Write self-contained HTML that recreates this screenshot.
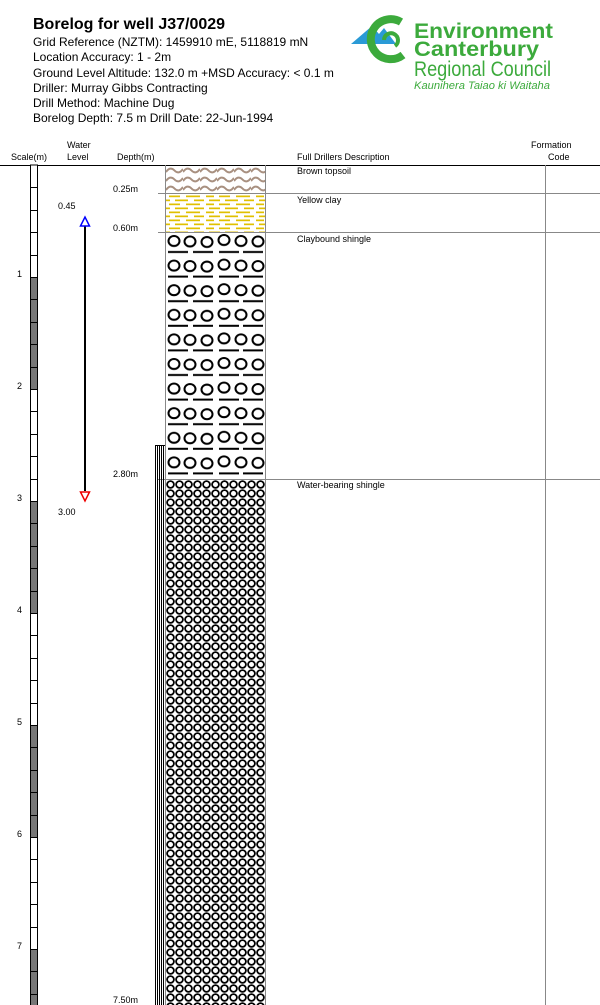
<!DOCTYPE html>
<html><head><meta charset="utf-8"><style>
html,body{margin:0;padding:0;background:#fff;}
svg{display:block;font-family:"Liberation Sans",Arial,sans-serif;}
</style></head><body>
<svg width="600" height="1005" viewBox="0 0 600 1005" xmlns="http://www.w3.org/2000/svg">
<defs>
<pattern id="soil" x="166" y="166" width="17" height="9" patternUnits="userSpaceOnUse">
<path d="M0 6 Q4.25 0 8.5 4.5 Q12.75 9 17 3" fill="none" stroke="#a89080" stroke-width="2"/>
</pattern>
<pattern id="clay" x="166" y="195" width="50" height="8" patternUnits="userSpaceOnUse">
<rect x="3" y="0.5" width="11" height="1.7" fill="#e0c000"/><rect x="20" y="0.5" width="14" height="1.7" fill="#e0c000"/><rect x="40" y="0.5" width="8" height="1.7" fill="#e0c000"/>
<rect x="9" y="4.5" width="13" height="1.7" fill="#e0c000"/><rect x="28" y="4.5" width="10" height="1.7" fill="#e0c000"/><rect x="43" y="4.5" width="7" height="1.7" fill="#e0c000"/><rect x="0" y="4.5" width="4" height="1.7" fill="#e0c000"/>
</pattern>
<pattern id="cshingle" x="166" y="234" width="100" height="24.6" patternUnits="userSpaceOnUse">
<g fill="none" stroke="#000" stroke-width="2">
<ellipse cx="8" cy="7" rx="5.5" ry="5"/><ellipse cx="24" cy="7.5" rx="5.5" ry="5"/><ellipse cx="41" cy="8" rx="5.5" ry="5"/>
<ellipse cx="58" cy="6" rx="5.5" ry="5"/><ellipse cx="75" cy="7" rx="5.5" ry="5"/><ellipse cx="92" cy="7.5" rx="5.5" ry="5"/>
</g>
<rect x="2" y="17" width="20" height="2" fill="#000"/><rect x="27" y="17" width="20" height="2" fill="#000"/>
<rect x="53" y="17" width="20" height="2" fill="#000"/><rect x="77" y="17" width="20" height="2" fill="#000"/>
</pattern>
<pattern id="wshingle" x="166" y="480" width="9" height="9" patternUnits="userSpaceOnUse">
<circle cx="4.5" cy="4.5" r="3.4" fill="none" stroke="#000" stroke-width="1.8"/>
</pattern>
</defs>

<text x="33" y="29" font-size="16" font-weight="bold">Borelog for well J37/0029</text>
<g font-size="12">
<text x="33" y="46">Grid Reference (NZTM):  1459910 mE, 5118819 mN</text>
<text x="33" y="61">Location Accuracy:  1 - 2m</text>
<text x="33" y="77">Ground Level Altitude:  132.0 m +MSD Accuracy: &lt; 0.1 m</text>
<text x="33" y="92">Driller:  Murray Gibbs Contracting</text>
<text x="33" y="107">Drill Method:  Machine Dug</text>
<text x="33" y="122">Borelog Depth:  7.5 m    Drill Date:  22-Jun-1994</text>
</g>

<!-- logo -->
<path d="M351 44 L372 26 L379 34 L384 28 L396 44 Z" fill="#2a9ad6"/>
<path d="M401 22 A20 20 0 1 0 403 55" fill="none" stroke="#3caa3c" stroke-width="8"/>
<path d="M384 40 A7 7 0 1 1 395 46" fill="none" stroke="#3caa3c" stroke-width="4"/>
<g fill="#3caa3c">
<text x="414" y="38" font-size="21" font-weight="bold" textLength="139" lengthAdjust="spacingAndGlyphs">Environment</text>
<text x="414" y="56" font-size="21" font-weight="bold" textLength="125" lengthAdjust="spacingAndGlyphs">Canterbury</text>
<text x="414" y="76" font-size="21" textLength="137" lengthAdjust="spacingAndGlyphs">Regional Council</text>
<text x="414" y="89" font-size="11" font-style="italic" textLength="136" lengthAdjust="spacingAndGlyphs">Kaunihera Taiao ki Waitaha</text>
</g>

<g font-size="9">
<text x="11" y="160">Scale(m)</text>
<text x="67" y="148">Water</text><text x="67" y="160">Level</text>
<text x="117" y="160">Depth(m)</text>
<text x="297" y="160">Full Drillers Description</text>
<text x="531" y="148">Formation</text><text x="548" y="160">Code</text>
</g>
<line x1="0" y1="165.5" x2="600" y2="165.5" stroke="#000" stroke-width="1"/>

<!-- scale bar -->
<rect x="30.5" y="165" width="7" height="840" fill="#fff" stroke="#000"/>
<rect x="30.5" y="277" width="7" height="112" fill="#777"/>
<rect x="30.5" y="501" width="7" height="112" fill="#777"/>
<rect x="30.5" y="725" width="7" height="112" fill="#777"/>
<rect x="30.5" y="949" width="7" height="60" fill="#777"/>
<g stroke="#000">
<line x1="30.5" y1="165" x2="30.5" y2="1005"/><line x1="37.5" y1="165" x2="37.5" y2="1005"/>
</g>
<g font-size="9">
<text x="17" y="277">1</text><text x="17" y="389">2</text><text x="17" y="501">3</text>
<text x="17" y="613">4</text><text x="17" y="725">5</text><text x="17" y="837">6</text><text x="17" y="949">7</text>
</g>

<!-- water level -->
<text x="58" y="209" font-size="9">0.45</text>
<text x="58" y="515" font-size="9">3.00</text>
<line x1="85" y1="226" x2="85" y2="491" stroke="#000" stroke-width="2"/>
<path d="M80.5 226 L85 217 L89.5 226 Z" fill="#fff" stroke="#00f" stroke-width="1.5"/>
<path d="M80.5 492 L85 501 L89.5 492 Z" fill="#fff" stroke="#e00" stroke-width="1.5"/>

<!-- depths -->
<g font-size="9">
<text x="113" y="192">0.25m</text>
<text x="113" y="231">0.60m</text>
<text x="113" y="477">2.80m</text>
<text x="113" y="1003">7.50m</text>
</g>

<!-- lithology -->
<rect x="165.5" y="166" width="100" height="27" fill="url(#soil)"/>
<rect x="165.5" y="194" width="100" height="38" fill="url(#clay)"/>
<rect x="165.5" y="233" width="100" height="246" fill="url(#cshingle)"/>
<rect x="165.5" y="480" width="100" height="525" fill="url(#wshingle)"/>
<line x1="165.5" y1="165" x2="165.5" y2="1005" stroke="#888"/>
<line x1="265.5" y1="165" x2="265.5" y2="1005" stroke="#888"/>
<g stroke="#888">
<line x1="158" y1="193.5" x2="600" y2="193.5"/>
<line x1="158" y1="232.5" x2="600" y2="232.5"/>
<line x1="158" y1="479.5" x2="600" y2="479.5"/>
</g>
<line x1="545.5" y1="165" x2="545.5" y2="1005" stroke="#888"/>

<!-- casing lines -->
<g stroke="#000" stroke-width="1">
<line x1="155.5" y1="445" x2="155.5" y2="1005"/><line x1="157.5" y1="445" x2="157.5" y2="1005"/>
<line x1="159.5" y1="445" x2="159.5" y2="1005"/><line x1="161.5" y1="445" x2="161.5" y2="1005"/>
<line x1="163.5" y1="445" x2="163.5" y2="1005"/>
<line x1="155" y1="445.5" x2="165" y2="445.5"/>
</g>

<g font-size="9">
<text x="297" y="174">Brown topsoil</text>
<text x="297" y="203">Yellow clay</text>
<text x="297" y="242">Claybound shingle</text>
<text x="297" y="488">Water-bearing shingle</text>
</g>

<g stroke="#000">
<line x1="30" y1="187.5" x2="38" y2="187.5"/><line x1="30" y1="210.5" x2="38" y2="210.5"/><line x1="30" y1="232.5" x2="38" y2="232.5"/><line x1="30" y1="255.5" x2="38" y2="255.5"/>
<line x1="30" y1="277.5" x2="38" y2="277.5"/><line x1="30" y1="299.5" x2="38" y2="299.5"/><line x1="30" y1="322.5" x2="38" y2="322.5"/><line x1="30" y1="344.5" x2="38" y2="344.5"/><line x1="30" y1="367.5" x2="38" y2="367.5"/>
<line x1="30" y1="389.5" x2="38" y2="389.5"/><line x1="30" y1="411.5" x2="38" y2="411.5"/><line x1="30" y1="434.5" x2="38" y2="434.5"/><line x1="30" y1="456.5" x2="38" y2="456.5"/><line x1="30" y1="479.5" x2="38" y2="479.5"/>
<line x1="30" y1="501.5" x2="38" y2="501.5"/><line x1="30" y1="523.5" x2="38" y2="523.5"/><line x1="30" y1="546.5" x2="38" y2="546.5"/><line x1="30" y1="568.5" x2="38" y2="568.5"/><line x1="30" y1="591.5" x2="38" y2="591.5"/>
<line x1="30" y1="613.5" x2="38" y2="613.5"/><line x1="30" y1="635.5" x2="38" y2="635.5"/><line x1="30" y1="658.5" x2="38" y2="658.5"/><line x1="30" y1="680.5" x2="38" y2="680.5"/><line x1="30" y1="703.5" x2="38" y2="703.5"/>
<line x1="30" y1="725.5" x2="38" y2="725.5"/><line x1="30" y1="747.5" x2="38" y2="747.5"/><line x1="30" y1="770.5" x2="38" y2="770.5"/><line x1="30" y1="792.5" x2="38" y2="792.5"/><line x1="30" y1="815.5" x2="38" y2="815.5"/>
<line x1="30" y1="837.5" x2="38" y2="837.5"/><line x1="30" y1="859.5" x2="38" y2="859.5"/><line x1="30" y1="882.5" x2="38" y2="882.5"/><line x1="30" y1="904.5" x2="38" y2="904.5"/><line x1="30" y1="927.5" x2="38" y2="927.5"/>
<line x1="30" y1="949.5" x2="38" y2="949.5"/><line x1="30" y1="971.5" x2="38" y2="971.5"/><line x1="30" y1="994.5" x2="38" y2="994.5"/>
</g>
</svg>
</body></html>
